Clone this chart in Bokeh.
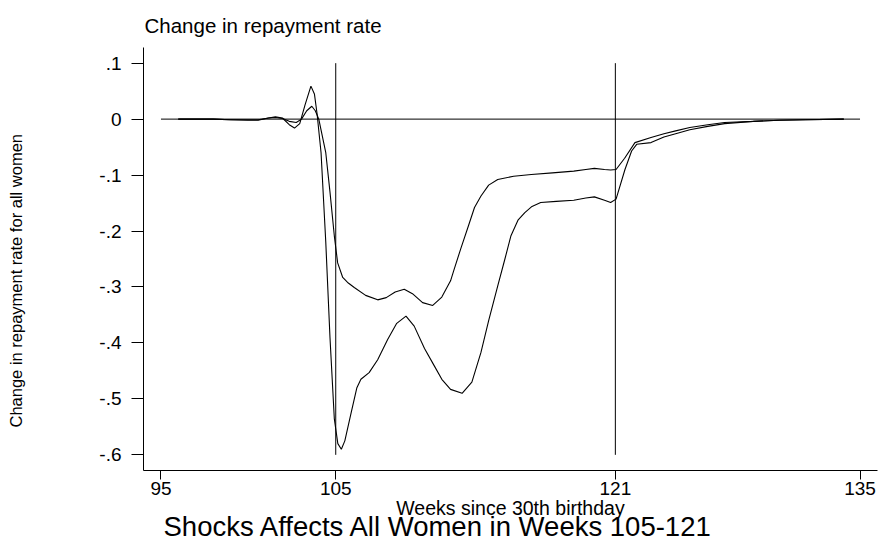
from bokeh.plotting import figure
from bokeh.models import Range1d, FixedTicker, Title
from bokeh.embed import file_html
from bokeh.resources import INLINE

# ---- data ----
x_ticks = [95, 105, 121, 135]
y_ticks = [-0.6, -0.5, -0.4, -0.3, -0.2, -0.1, 0.0, 0.1]
y_tick_labels = ["-.6", "-.5", "-.4", "-.3", "-.2", "-.1", "0", ".1"]

shock_weeks = [105, 121]
shock_y = [-0.6, 0.1]
zero_x = [95, 135]

x_low = [95.99, 96.98, 97.98, 98.97, 99.96, 100.56, 101.15, 101.55, 101.95, 102.34,
         102.64, 102.94, 103.24, 103.58, 103.78, 103.93, 104.16, 104.43, 104.67, 104.92,
         105.12, 105.32, 105.52, 105.88, 106.21, 106.44, 106.91, 107.40, 107.97, 108.49,
         109.02, 109.49, 110.08, 110.64, 111.07, 111.57, 112.23, 112.79, 113.31, 113.75,
         114.27, 114.68, 115.02, 115.44, 115.82, 116.23, 116.73, 117.62, 118.62, 119.31,
         119.80, 120.38, 120.73, 121.04, 121.55, 121.93, 122.22, 123.04, 123.78, 124.45,
         125.26, 126.29, 127.25, 128.89, 130.38, 131.87, 134.07]
y_low = [0, 0, 0, -0.001, -0.002, -0.002, 0.002, 0.004, 0.002, -0.010,
         -0.016, -0.008, 0.025, 0.059, 0.045, 0.010, -0.060, -0.220, -0.390, -0.536,
         -0.580, -0.590, -0.575, -0.525, -0.480, -0.465, -0.453, -0.430, -0.394, -0.365,
         -0.352, -0.370, -0.410, -0.441, -0.465, -0.483, -0.490, -0.470, -0.417, -0.360,
         -0.298, -0.250, -0.209, -0.180, -0.167, -0.156, -0.149, -0.147, -0.145, -0.141,
         -0.139, -0.145, -0.149, -0.143, -0.090, -0.057, -0.045, -0.042, -0.032, -0.026,
         -0.019, -0.013, -0.008, -0.004, -0.002, -0.001, 0]

x_up = [95.99, 96.98, 97.98, 98.97, 99.96, 100.56, 101.15, 101.55, 101.95, 102.34,
        102.74, 103.04, 103.34, 103.63, 103.83, 104.03, 104.43, 104.67, 104.92, 105.11,
        105.40, 105.72, 106.06, 106.71, 107.40, 107.89, 108.40, 108.92, 109.39, 109.97,
        110.55, 111.07, 111.57, 111.77, 112.17, 112.59, 112.94, 113.31, 113.75, 114.27,
        115.18, 116.19, 117.40, 118.62, 119.31, 119.80, 120.38, 120.73, 121.04, 121.53,
        122.12, 123.04, 123.78, 124.45, 125.26, 126.29, 127.25, 128.89, 130.38, 131.87,
        134.07]
y_up = [0, 0, 0, -0.001, -0.001, -0.001, 0.002, 0.003, 0.001, -0.004,
        -0.006, 0.000, 0.015, 0.023, 0.015, 0.000, -0.060, -0.130, -0.209, -0.257,
        -0.283, -0.293, -0.301, -0.315, -0.323, -0.319, -0.309, -0.304, -0.312, -0.328,
        -0.333, -0.318, -0.289, -0.269, -0.230, -0.191, -0.158, -0.1375, -0.118, -0.108,
        -0.102, -0.099, -0.096, -0.093, -0.090, -0.088, -0.090, -0.091, -0.090, -0.070,
        -0.042, -0.033, -0.026, -0.021, -0.015, -0.010, -0.006, -0.004, -0.002, -0.001,
        0]

FONT = "Liberation Sans"

p = figure(frame_width=734, frame_height=423, output_backend="svg", toolbar_location=None,
           x_range=Range1d(94, 136), y_range=Range1d(-0.628, 0.128),
           min_border_left=143, min_border_right=4, min_border_top=45,
           min_border_bottom=74, background_fill_color="white",
           border_fill_color="white")
p.outline_line_color = None
p.grid.visible = False

# title on top
p.title.text = "Change in repayment rate"
p.title.align = "left"
p.title.text_font = FONT
p.title.text_font_size = "20.5px"
p.title.text_font_style = "normal"
p.title.text_color = "black"
p.title.offset = 1
p.title.standoff = 22

# axes
p.xaxis.ticker = FixedTicker(ticks=x_ticks)
p.yaxis.ticker = FixedTicker(ticks=y_ticks)
p.yaxis.major_label_overrides = {t: l for t, l in zip(y_ticks, y_tick_labels)}
p.xaxis.major_label_overrides = {t: str(t) for t in x_ticks}
for ax in (p.xaxis, p.yaxis):
    ax.axis_line_color = "black"
    ax.major_tick_line_color = "black"
    ax.minor_tick_line_color = None
    ax.major_tick_in = 0
    ax.major_label_text_font = FONT
    ax.major_label_text_font_size = "19px"
    ax.major_label_text_color = "black"
    ax.axis_label_text_font = FONT
    ax.axis_label_text_font_style = "normal"
    ax.axis_label_text_color = "black"
p.yaxis.major_tick_out = 12
p.yaxis.major_label_standoff = 10
p.xaxis.major_tick_out = 9
p.xaxis.major_label_standoff = 2

# spacer between the y axis and its title, then the y title itself
spacer = Title(text=" ", text_font_size="1px", standoff=69)
p.add_layout(spacer, "left")
y_title = Title(text="Change in repayment rate for all women", align="left",
                offset=43, text_font=FONT, text_font_size="16.5px",
                text_font_style="normal", text_color="black", standoff=0)
p.add_layout(y_title, "left")

p.xaxis.axis_label = "Weeks since 30th birthday"
p.xaxis.axis_label_text_font_size = "19.5px"
p.xaxis.axis_label_standoff = -1

bottom_title = Title(text="Shocks Affects All Women in Weeks 105-121", align="left",
                     offset=20, text_font=FONT, text_font_size="27.5px",
                     text_font_style="normal", text_color="black", standoff=-26)
p.add_layout(bottom_title, "below")

# reference lines
p.segment(x0=zero_x[0], y0=0, x1=zero_x[1], y1=0, line_color="black", line_width=1)
p.segment(x0=shock_weeks, y0=shock_y[0], x1=shock_weeks, y1=shock_y[1],
          line_color="black", line_width=1)

# curves
p.line(x_up, y_up, line_color="black", line_width=1.1)
p.line(x_low, y_low, line_color="black", line_width=1.1)

open("out.html", "w").write(file_html(p, INLINE))
